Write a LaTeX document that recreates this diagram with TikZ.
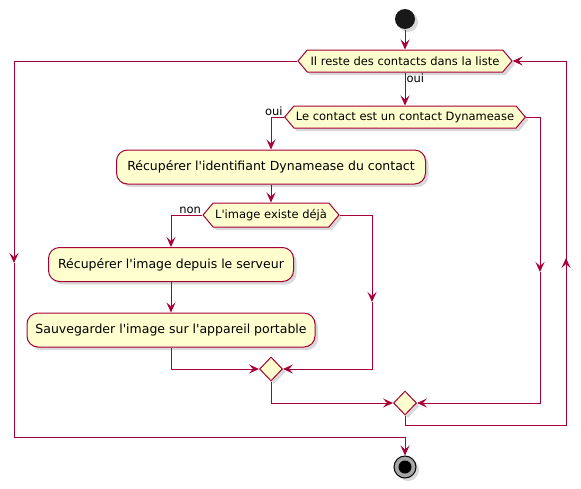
\documentclass[tikz,border=0pt]{standalone}
\usepackage{fontspec}
\setmainfont{DejaVu Sans}
\usepackage{xcolor}
\usetikzlibrary{arrows.meta,shapes.symbols,shapes.geometric,shadows}
\definecolor{umlred}{HTML}{A80036}
\definecolor{umlfill}{HTML}{FEFECE}
\newcommand{\q}{\textquotesingle}

\begin{document}
\begin{tikzpicture}[x=1pt, y=-1pt, line width=1pt,
        shade/.style={drop shadow={opacity=0.3, shadow xshift=3pt, shadow yshift=-3pt}},
        act/.style={rectangle, rounded corners=11pt, draw=umlred, fill=umlfill, shade,
            inner sep=0pt, minimum height=34pt, font=\fontsize{12.5}{14}\selectfont},
        hex/.style={signal, signal to=west and east, signal pointer angle=100, draw=umlred,
            fill=umlfill, shade, inner xsep=2pt, inner ysep=0pt, minimum height=22pt,
            font=\fontsize{11.5}{13}\selectfont},
        merge/.style={diamond, draw=umlred, fill=umlfill, shade, inner sep=0pt,
            minimum width=23pt, minimum height=24pt},
        lbl/.style={inner sep=1pt, font=\fontsize{11.5}{13}\selectfont},
        line/.style={draw=umlred},
        arr/.style={draw=umlred, -{Stealth[length=10pt, width=9pt, inset=4pt]}}]

    \useasboundingbox (0,0) rectangle (581,488);

    \node[circle, fill=black!90, minimum size=20pt, inner sep=0pt, shade] (start) at (405,19) {};
    \node[hex, minimum width=214pt] (loop) at (405,61) {Il reste des contacts dans la liste};
    \node[hex, minimum width=236pt] (isDyn) at (405,117) {Le contact est un contact Dynamease};
    \node[act, minimum width=309pt] (getId) at (271,167) {Récupérer l\q identifiant Dynamease du contact};
    \node[hex, minimum width=133pt, minimum height=24pt] (imgQ) at (271,215) {L\q image existe déjà};
    \node[act, minimum width=245pt] (getImg) at (171,264.5) {Récupérer l\q image depuis le serveur};
    \node[act, minimum width=288pt] (saveImg) at (171,330) {Sauvegarder l\q image sur l\q appareil portable};
    \node[merge] (m1) at (271,369) {};
    \node[merge] (m2) at (405,403) {};
    \node[circle, draw=black, fill=black!35, minimum size=22pt, inner sep=0pt, shade] (stop) at (405,467) {};
    \fill[black] (stop) circle (6.5);

    \coordinate (noR) at (372,302);
    \coordinate (dynR) at (540,272);
    \coordinate (backB) at (405,425);
    \coordinate (backR) at (566,258);
    \coordinate (exitL) at (14,263);
    \coordinate (exitB) at (405,437);

    \path[arr] (start) -- (loop.north);
    \path[arr] (loop.south) -- (isDyn.north) node[lbl, pos=0, anchor=north west] {oui};
    \path[arr] (isDyn.west) -| (getId.north);
    \node[lbl, anchor=south east] at (isDyn.west) {oui};
    \path[arr] (getId.south) -- (imgQ.north);
    \path[arr] (imgQ.west) -| (getImg.north);
    \node[lbl, anchor=south east] at (imgQ.west) {non};
    \path[arr] (getImg.south) -- (saveImg.north);
    \path[arr] (saveImg.south) |- (m1.west);
    \path[arr] (imgQ.east) -| (noR);
    \path[arr] (noR) |- (m1.east);
    \path[arr] (m1.south) |- (m2.west);
    \path[arr] (isDyn.east) -| (dynR);
    \path[arr] (dynR) |- (m2.east);
    \path[line] (m2.south) -- (backB) -| (backR);
    \path[arr] (backB -| backR) -- (backR);
    \path[arr] (backR) |- (loop.east);
    \path[arr] (loop.west) -| (exitL);
    \path[line] (exitL) |- (exitB);
    \path[arr] (exitB) -- (stop.north);
\end{tikzpicture}
\end{document}
